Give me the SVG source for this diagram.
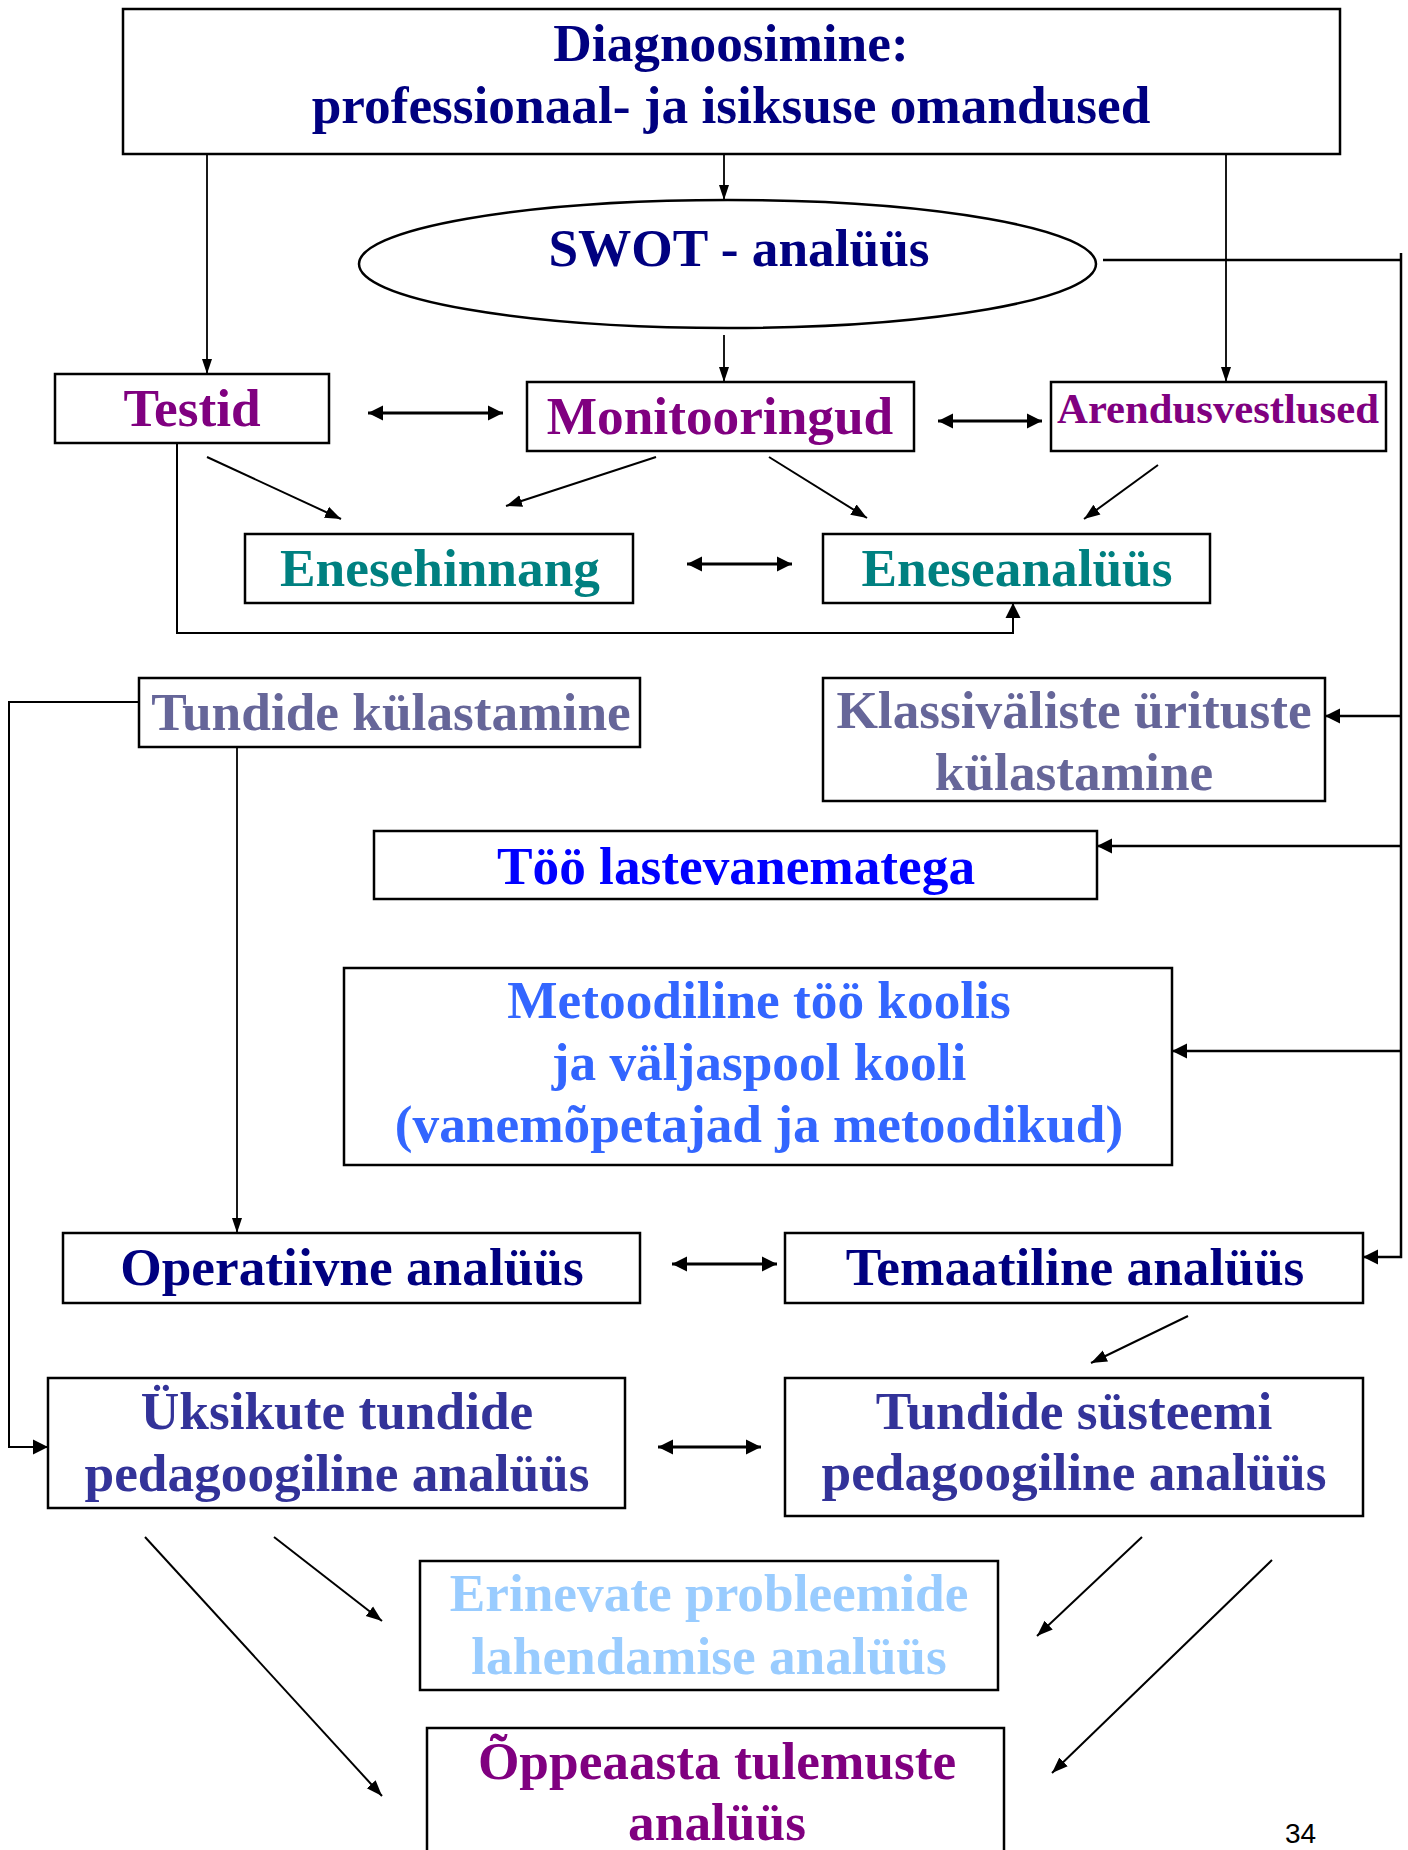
<svg xmlns="http://www.w3.org/2000/svg" width="1408" height="1850" viewBox="0 0 1408 1850">
<style>
.box{fill:#fff;stroke:#000;stroke-width:2.5}
.t{font-family:"Liberation Serif","Times New Roman",serif;font-weight:bold;font-size:53.3px;text-anchor:middle}
.c{fill:none;stroke:#000;stroke-width:2}
.thin{fill:none;stroke:#000;stroke-width:1.8}
.bus{fill:none;stroke:#000;stroke-width:2.5}
.dbl{fill:none;stroke:#000;stroke-width:3}
.navy{fill:#000080}.purple{fill:#800080}.teal{fill:#008080}.slate{fill:#666699}
.blue{fill:#0000FF}.mblue{fill:#3366FF}.indigo{fill:#333399}.light{fill:#99CCFF}
</style>
<defs>
<marker id="a" markerUnits="userSpaceOnUse" markerWidth="18" markerHeight="14" refX="16" refY="7" orient="auto"><path d="M0,1 L16,7 L0,13 Z" fill="#000"/></marker>
<marker id="as" markerUnits="userSpaceOnUse" markerWidth="16" markerHeight="12" refX="15" refY="6" orient="auto"><path d="M0,1 L15,6 L0,11 Z" fill="#000"/></marker>
<marker id="ab" markerUnits="userSpaceOnUse" markerWidth="16" markerHeight="16" refX="15" refY="8" orient="auto"><path d="M0,0.5 L15,8 L0,15.5 Z" fill="#000"/></marker>
<marker id="abs" markerUnits="userSpaceOnUse" markerWidth="16" markerHeight="16" refX="1" refY="8" orient="auto"><path d="M16,0.5 L1,8 L16,15.5 Z" fill="#000"/></marker>
</defs>

<g id="connectors">
<line class="thin" x1="724" y1="154" x2="724" y2="200" marker-end="url(#as)"/>
<line class="thin" x1="207" y1="154" x2="207" y2="374" marker-end="url(#as)"/>
<line class="thin" x1="1226" y1="154" x2="1226" y2="382" marker-end="url(#as)"/>
<line class="thin" x1="724" y1="335" x2="724" y2="382" marker-end="url(#as)"/>
<line class="dbl" x1="368" y1="413" x2="503" y2="413" marker-start="url(#abs)" marker-end="url(#ab)"/>
<line class="dbl" x1="938" y1="421" x2="1042" y2="421" marker-start="url(#abs)" marker-end="url(#ab)"/>
<line class="c" x1="207" y1="457" x2="341" y2="519" marker-end="url(#a)"/>
<line class="c" x1="656" y1="457" x2="506" y2="506" marker-end="url(#a)"/>
<line class="c" x1="769" y1="457" x2="867" y2="518" marker-end="url(#a)"/>
<line class="c" x1="1158" y1="465" x2="1084" y2="519" marker-end="url(#a)"/>
<line class="dbl" x1="687" y1="564" x2="792" y2="564" marker-start="url(#abs)" marker-end="url(#ab)"/>
<path class="c" d="M177,443 V633 H1013 V603" marker-end="url(#ab)"/>
<path class="bus" d="M1103,260 H1401"/>
<path class="bus" d="M1401,253 V1257 H1363" marker-end="url(#ab)"/>
<line class="bus" x1="1401" y1="716" x2="1325" y2="716" marker-end="url(#ab)"/>
<line class="bus" x1="1401" y1="846" x2="1097" y2="846" marker-end="url(#ab)"/>
<line class="bus" x1="1401" y1="1051" x2="1172" y2="1051" marker-end="url(#ab)"/>
<path class="c" d="M139,702 H9 V1447 H48" marker-end="url(#ab)"/>
<line class="thin" x1="237" y1="747" x2="237" y2="1233" marker-end="url(#as)"/>
<line class="dbl" x1="672" y1="1264" x2="777" y2="1264" marker-start="url(#abs)" marker-end="url(#ab)"/>
<line class="c" x1="1188" y1="1316" x2="1091" y2="1363" marker-end="url(#a)"/>
<line class="dbl" x1="658" y1="1447" x2="761" y2="1447" marker-start="url(#abs)" marker-end="url(#ab)"/>
<line class="c" x1="145" y1="1537" x2="382" y2="1796" marker-end="url(#a)"/>
<line class="c" x1="274" y1="1537" x2="382" y2="1621" marker-end="url(#a)"/>
<line class="c" x1="1142" y1="1537" x2="1037" y2="1636" marker-end="url(#a)"/>
<line class="c" x1="1272" y1="1560" x2="1052" y2="1773" marker-end="url(#a)"/>
</g>

<g id="diagnoosimine">
<rect class="box" x="123" y="9" width="1217" height="145"/>
<text class="t navy" x="731" y="61">Diagnoosimine:</text>
<text class="t navy" x="731" y="123">professionaal- ja isiksuse omandused</text>
</g>
<g id="swot">
<ellipse class="box" cx="727.5" cy="264" rx="368.5" ry="64"/>
<text class="t navy" x="739" y="266">SWOT - analüüs</text>
</g>
<g id="testid">
<rect class="box" x="55" y="374" width="274" height="69"/>
<text class="t purple" x="192" y="426">Testid</text>
</g>
<g id="monitooringud">
<rect class="box" x="527" y="382" width="387" height="69"/>
<text class="t purple" x="720" y="434">Monitooringud</text>
</g>
<g id="arendusvestlused">
<rect class="box" x="1051" y="382" width="335" height="69"/>
<text class="t purple" x="1218" y="423" style="font-size:42.7px">Arendusvestlused</text>
</g>
<g id="enesehinnang">
<rect class="box" x="245" y="534" width="388" height="69"/>
<text class="t teal" x="440" y="586">Enesehinnang</text>
</g>
<g id="eneseanalyys">
<rect class="box" x="823" y="534" width="387" height="69"/>
<text class="t teal" x="1017" y="586">Eneseanalüüs</text>
</g>
<g id="tundide-kylastamine">
<rect class="box" x="139" y="678" width="501" height="69"/>
<text class="t slate" x="391" y="730">Tundide külastamine</text>
</g>
<g id="klassivaliste">
<rect class="box" x="823" y="678" width="502" height="123"/>
<text class="t slate" x="1074" y="728">Klassiväliste ürituste</text>
<text class="t slate" x="1074" y="790">külastamine</text>
</g>
<g id="too-lastevanematega">
<rect class="box" x="374" y="831" width="723" height="68"/>
<text class="t blue" x="736" y="884">Töö lastevanematega</text>
</g>
<g id="metoodiline">
<rect class="box" x="344" y="968" width="828" height="197"/>
<text class="t mblue" x="759" y="1018">Metoodiline töö koolis</text>
<text class="t mblue" x="759" y="1080">ja väljaspool kooli</text>
<text class="t mblue" x="759" y="1142">(vanemõpetajad ja metoodikud)</text>
</g>
<g id="operatiivne">
<rect class="box" x="63" y="1233" width="577" height="70"/>
<text class="t navy" x="352" y="1285">Operatiivne analüüs</text>
</g>
<g id="temaatiline">
<rect class="box" x="785" y="1233" width="578" height="70"/>
<text class="t navy" x="1075" y="1285">Temaatiline analüüs</text>
</g>
<g id="yksikute">
<rect class="box" x="48" y="1378" width="577" height="130"/>
<text class="t indigo" x="337" y="1429">Üksikute tundide</text>
<text class="t indigo" x="337" y="1491">pedagoogiline analüüs</text>
</g>
<g id="tundide-systeemi">
<rect class="box" x="785" y="1378" width="578" height="138"/>
<text class="t indigo" x="1074" y="1429">Tundide süsteemi</text>
<text class="t indigo" x="1074" y="1490">pedagoogiline analüüs</text>
</g>
<g id="erinevate">
<rect class="box" x="420" y="1561" width="578" height="129"/>
<text class="t light" x="709" y="1611">Erinevate probleemide</text>
<text class="t light" x="709" y="1674">lahendamise analüüs</text>
</g>
<g id="oppeaasta">
<rect class="box" x="427" y="1728" width="577" height="150"/>
<text class="t purple" x="717" y="1779">Õppeaasta tulemuste</text>
<text class="t purple" x="717" y="1840">analüüs</text>
</g>
<text x="1285" y="1843" style="font-family:'Liberation Sans',Arial,sans-serif;font-size:28px;fill:#000">34</text>
</svg>
